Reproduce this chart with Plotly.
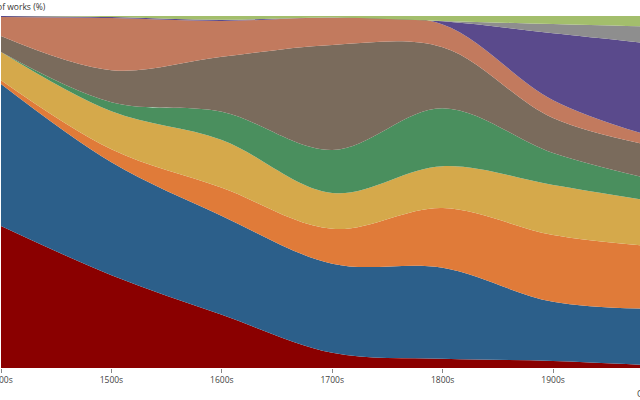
import plotly.graph_objects as go

centuries = [1400, 1500, 1600, 1700, 1800, 1900, 2000]
tick_labels = ["1400s", "1500s", "1600s", "1700s", "1800s", "1900s", "2000s"]

series_names = ["S1", "S2", "S3", "S4", "S5", "S6", "S7", "S8", "S9", "S10"]
s1 = [40.3, 26.4, 15.1, 4.3, 2.6, 2.0, 0.6]
s2 = [40.3, 32.1, 28.1, 25.3, 25.9, 16.8, 16.2]
s3 = [1.1, 3.7, 8.0, 9.9, 17.0, 19.0, 17.6]
s4 = [8.0, 10.8, 13.6, 10.2, 11.9, 14.2, 12.5]
s5 = [0.0, 2.6, 8.0, 12.2, 16.5, 9.1, 6.0]
s6 = [4.5, 9.1, 15.6, 29.8, 17.3, 9.9, 9.7]
s7 = [5.4, 14.8, 10.2, 7.7, 6.5, 5.1, 2.3]
s8 = [0.3, 0.3, 0.3, 0.1, 0.9, 19.0, 27.0]
s9 = [0.0, 0.0, 0.0, 0.0, 0.1, 2.6, 5.1]
s10 = [0.0, 0.3, 1.1, 0.4, 1.4, 2.3, 3.1]
all_series = [s1, s2, s3, s4, s5, s6, s7, s8, s9, s10]

colors = ["#8a0000", "#2c5f8a", "#e07b39", "#d5a94b", "#4a8f5e",
          "#7a6b5c", "#c27a5e", "#5a4a8c", "#8e8e8e", "#a3be6c"]

fig = go.Figure()
for name, vals, col in zip(series_names, all_series, colors):
    fig.add_trace(go.Scatter(
        x=centuries, y=vals, name=name, mode="lines",
        stackgroup="one", groupnorm="percent",
        line=dict(width=0, shape="spline", smoothing=1.0, color=col),
        fillcolor=col,
    ))

fig.update_layout(
    width=640, height=400,
    margin=dict(l=1, r=0, t=16, b=32),
    paper_bgcolor="white", plot_bgcolor="white",
    showlegend=False,
    font=dict(family="Open Sans", size=8.5, color="#444"),
    xaxis=dict(
        range=[1400, 1978.7], tickvals=centuries, ticktext=tick_labels,
        ticks="outside", ticklen=4, tickcolor="#888", showgrid=False,
        zeroline=False, showline=False, automargin=False,
        ticklabeloverflow="allow",
        tickfont=dict(size=8.5, color="#444"),
    ),
    yaxis=dict(range=[0, 100], visible=False, showgrid=False, automargin=False),
    annotations=[
        dict(text="Share of works (%)", xref="paper", yref="paper", x=0, y=1,
             xanchor="right", yanchor="middle", xshift=47, yshift=10,
             showarrow=False, font=dict(size=8.5, color="#333")),
        dict(text="Century", xref="paper", yref="paper", x=1, y=0,
             xanchor="left", yanchor="middle", xshift=-5, yshift=-25,
             showarrow=False, font=dict(size=8.5, color="#444")),
    ],
)

fig.write_html("out.html")
